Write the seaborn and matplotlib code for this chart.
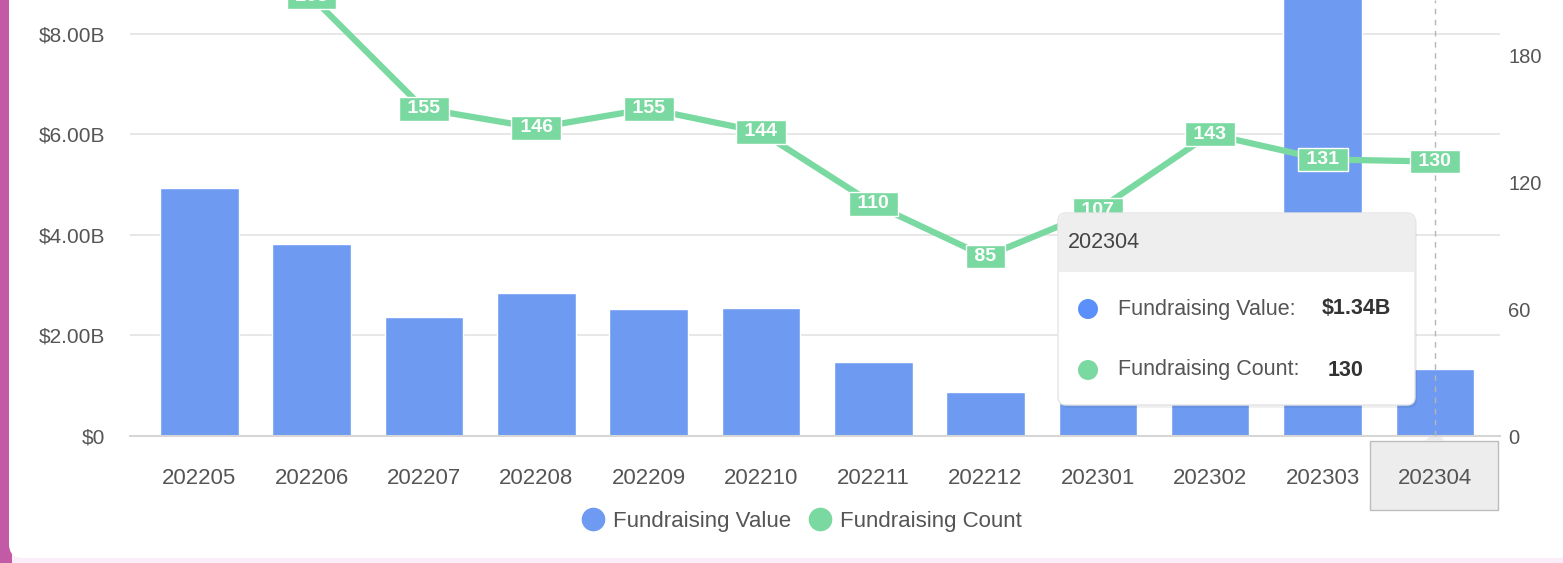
import numpy as np
import pandas as pd
import matplotlib
matplotlib.use("Agg")
import matplotlib.pyplot as plt
import seaborn as sns
from matplotlib.patches import FancyBboxPatch, Rectangle, Circle, Polygon
from matplotlib.lines import Line2D
from matplotlib.transforms import IdentityTransform
from matplotlib.ticker import FuncFormatter

# Data
months = ['202205', '202206', '202207', '202208', '202209', '202210',
          '202211', '202212', '202301', '202302', '202303', '202304']
value_b = [4.93, 3.82, 2.37, 2.84, 2.52, 2.54, 1.47, 0.87, 1.75, 1.95, 9.6, 1.34]
counts = [260, 208, 155, 146, 155, 144, 110, 85, 107, 143, 131, 130]
left_ticks = [0, 2, 4, 6, 8]
right_ticks = [0, 60, 120, 180]

BLUE = '#6e9bf1'
GREEN = '#7ad9a0'
TXT = '#555555'

sns.set_style('white')
plt.rcParams['font.family'] = ['Liberation Sans', 'DejaVu Sans']

W, H = 1563, 563
fig = plt.figure(figsize=(W / 100, H / 100), dpi=100)
fig.patch.set_facecolor('#fbeef8')
ident = IdentityTransform()


def px(x, y):
    # image pixel (top-left origin) -> display coords
    return (x, H - y)


# background card with magenta left edge
fig.patches.append(Rectangle((0, 0), 12, H, transform=ident, fc='#c25aa6', ec='none', zorder=-10))
fig.patches.append(FancyBboxPatch(px(9, 558), W, 600, boxstyle='round,pad=0,rounding_size=14',
                                  transform=ident, fc='white', ec='none', zorder=-9))

df = pd.DataFrame({'month': months, 'value': value_b, 'count': counts})

ax = fig.add_axes([130 / W, 127 / H, 1370 / W, 436 / H])
ax.patch.set_visible(False)
sns.barplot(data=df, x='month', y='value', ax=ax, color=BLUE, width=0.7, saturation=1, zorder=2)
ax.set_xlim(-0.616, 11.58)
ax.set_ylim(0, 8.668)
ax.set_yticks(left_ticks)
ax.yaxis.set_major_formatter(FuncFormatter(lambda v, p: '$0' if v == 0 else f'${v:.2f}B'))
ax.grid(axis='y', color='#e3e3e3', lw=1.2)
ax.grid(axis='x', visible=False)
ax.set_axisbelow(True)
for s in ['top', 'right', 'left']:
    ax.spines[s].set_visible(False)
ax.spines['bottom'].set_color('#d6d6d6')
ax.spines['bottom'].set_linewidth(1.5)
ax.tick_params(axis='y', length=0, pad=18, labelsize=15, labelcolor=TXT)
ax.tick_params(axis='x', length=6, width=1, color='#dddddd', pad=17, labelsize=16, labelcolor=TXT)
ax.set_xlabel('')
ax.set_ylabel('')

ax2 = ax.twinx()
ax2.patch.set_visible(False)
x_idx = np.arange(len(months))
sns.lineplot(x=x_idx, y=counts, ax=ax2, color=GREEN, lw=4.5, zorder=3)
ax2.set_ylim(0, 206.5)
ax2.set_yticks(right_ticks)
ax2.grid(False)
for s in ax2.spines.values():
    s.set_visible(False)
ax2.tick_params(axis='y', length=0, pad=6, labelsize=14.5, labelcolor=TXT)
ax2.set_ylabel('')
ax2.axvline(x_idx[-1], color='#b5b5b5', lw=1, ls=(0, (4, 4)), zorder=2)
for i, c in enumerate(counts):
    ax2.text(i, c, f' {c} ', ha='center', va='center', color='white', fontsize=14,
             fontweight='bold', zorder=5, clip_on=True,
             bbox=dict(boxstyle='square,pad=0.17', fc=GREEN, ec='white', lw=1))

# highlighted x label box
fig.patches.append(Rectangle(px(1370, 510), 128, 69, transform=ident, fc='#ededed',
                             ec='#bdbdbd', lw=1, zorder=-1))
fig.patches.append(Polygon([px(1425, 441), px(1435, 431), px(1445, 441)], closed=True,
                           transform=ident, fc='#ededed', ec='none', zorder=-1))

# tooltip
fig.patches.append(FancyBboxPatch(px(1060, 408), 357, 192, boxstyle='round,pad=0,rounding_size=8',
                                  transform=ident, fc='#000000', alpha=0.06, ec='none', zorder=6))
fig.patches.append(FancyBboxPatch(px(1058, 405), 357, 192, boxstyle='round,pad=0,rounding_size=8',
                                  transform=ident, fc='white', ec='#e4e4e4', lw=1, zorder=7))
fig.patches.append(FancyBboxPatch(px(1059, 272), 355, 58, boxstyle='round,pad=0,rounding_size=7',
                                  transform=ident, fc='#eeeeee', ec='none', zorder=8))
fig.patches.append(Rectangle(px(1059, 272), 355, 10, transform=ident, fc='#eeeeee', ec='none', zorder=8))
fig.patches.append(Circle(px(1088, 309), 10, transform=ident, fc='#5b8ff9', ec='none', zorder=9))
fig.patches.append(Circle(px(1088, 370), 10, transform=ident, fc=GREEN, ec='none', zorder=9))
tt = dict(transform=ident, va='center', fontsize=15.5, zorder=10)
fig.text(*px(1068, 243), '202304', color='#444444', **tt)
fig.text(*px(1118, 309), 'Fundraising Value:', color='#555555', **tt)
fig.text(*px(1322, 309), '$1.34B', color='#333333', fontweight='bold', **tt)
fig.text(*px(1118, 370), 'Fundraising Count:', color='#555555', **tt)
fig.text(*px(1328, 370), '130', color='#333333', fontweight='bold', **tt)

# legend
handles = [Line2D([], [], marker='o', ls='', markersize=16, color=BLUE),
           Line2D([], [], marker='o', ls='', markersize=16, color=GREEN)]
fig.legend(handles, ['Fundraising Value', 'Fundraising Count'], loc='center',
           bbox_to_anchor=(796 / W, 42 / H), ncol=2, frameon=False, fontsize=16,
           handletextpad=-0.1, columnspacing=0.3, labelcolor='#555555')

fig.savefig('out.png', dpi=100)
